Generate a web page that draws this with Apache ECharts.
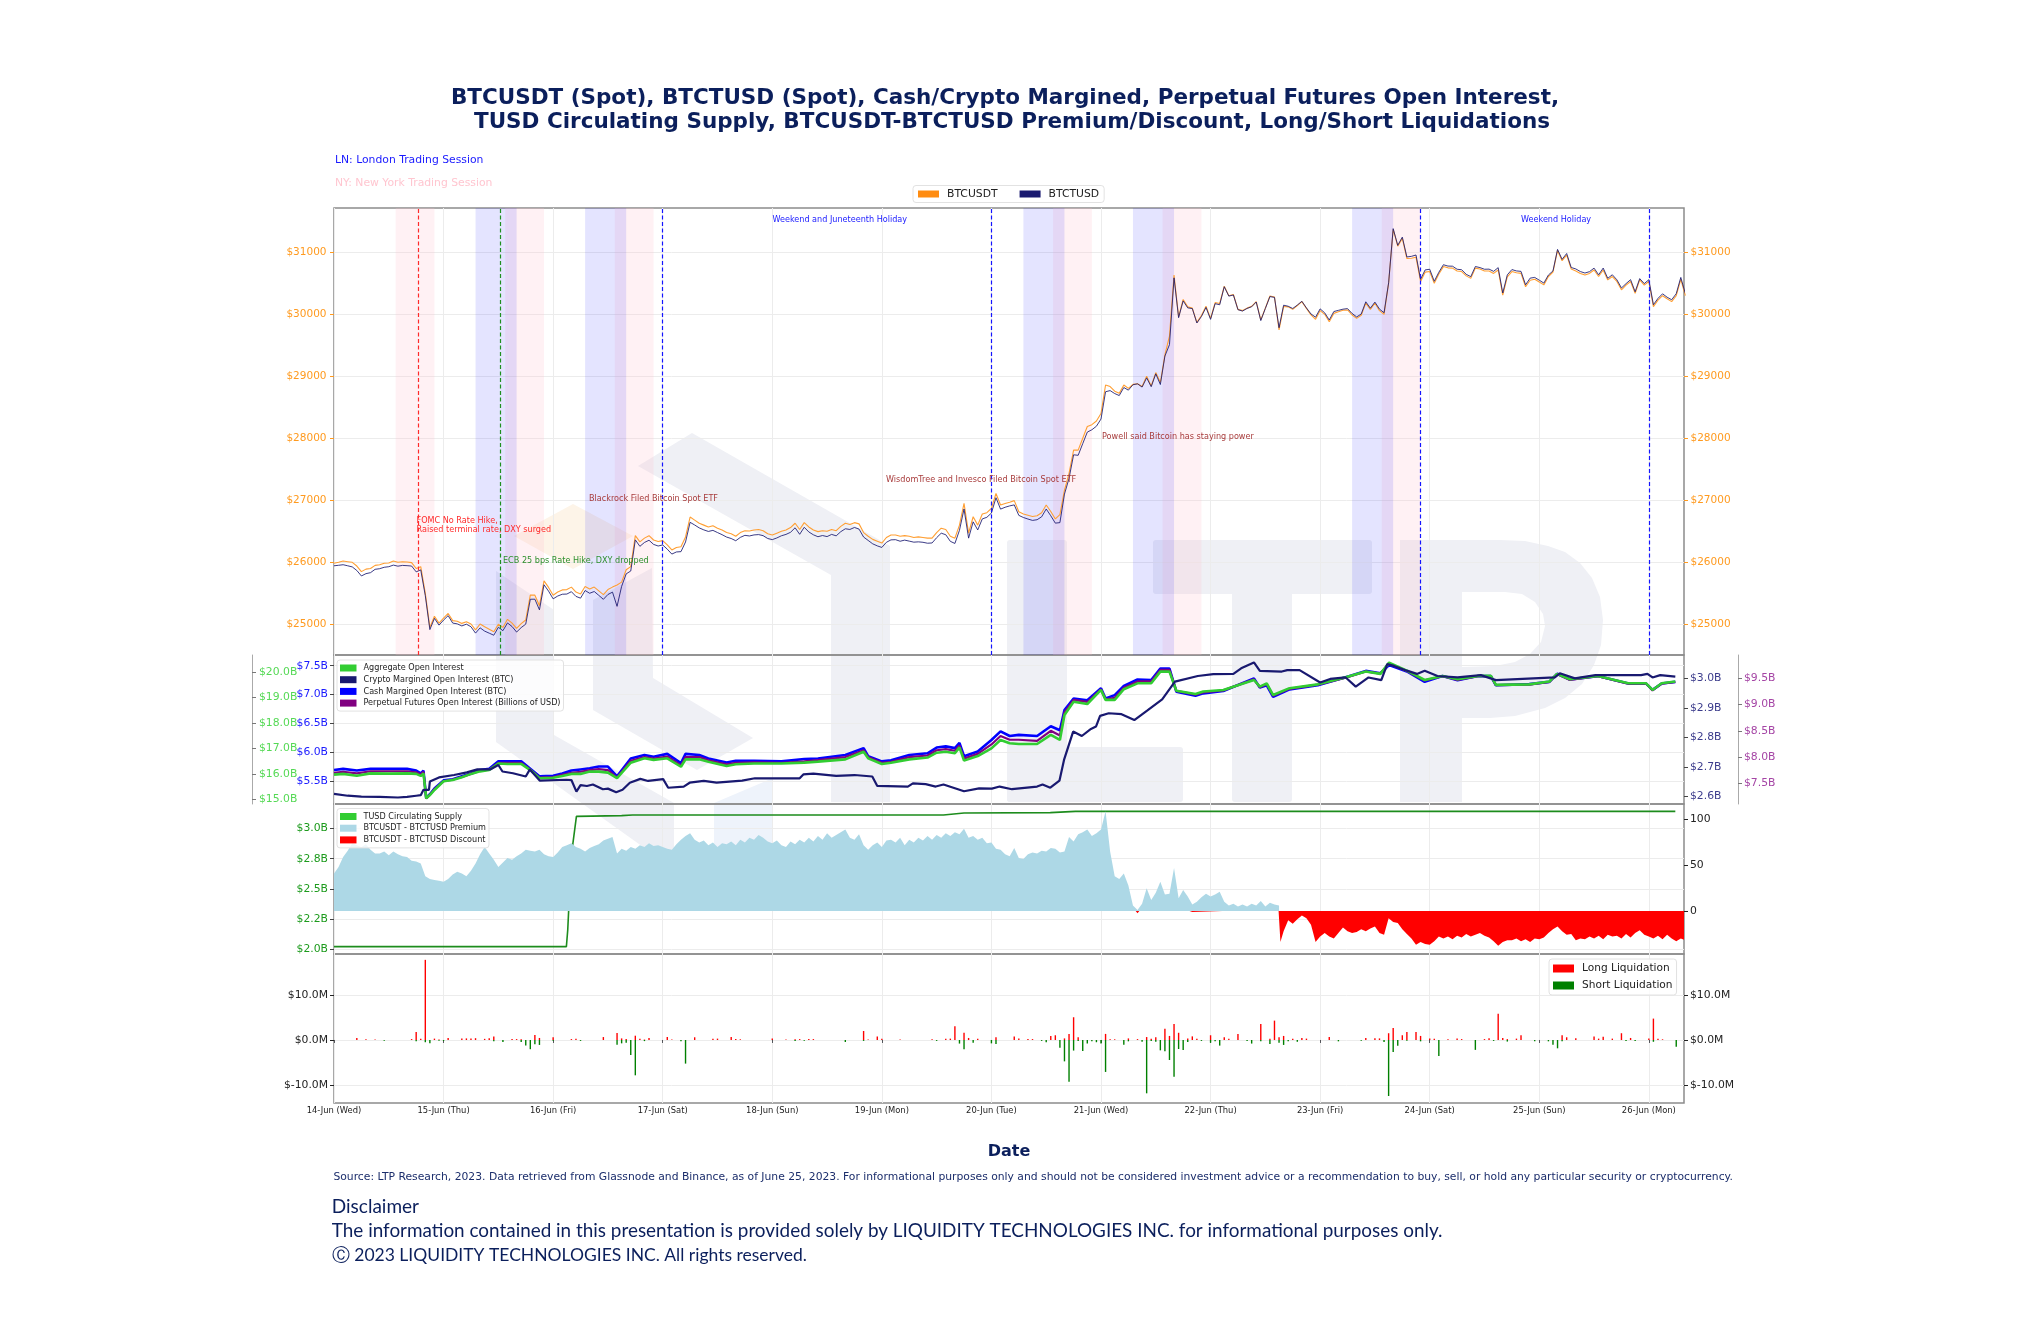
<!DOCTYPE html>
<html><head><meta charset="utf-8">
<style>html,body{margin:0;padding:0;background:#fff}#c{width:2040px;height:1334px}</style>
<script src="https://cdn.jsdelivr.net/npm/echarts@6/dist/echarts.min.js"></script>
</head><body><div id="c"></div>
<script>
// ---------- data (hour index = hours since 14-Jun 00:00) ----------
const dayHours=[0,24,48,72,96,120,144,168,192,216,240,264,288];
const dayLabels=['14-Jun (Wed)','15-Jun (Thu)','16-Jun (Fri)','17-Jun (Sat)','18-Jun (Sun)','19-Jun (Mon)','20-Jun (Tue)','21-Jun (Wed)','22-Jun (Thu)','23-Jun (Fri)','24-Jun (Sat)','25-Jun (Sun)','26-Jun (Mon)'];
const priceTicks=[25000,26000,27000,28000,29000,30000,31000];
const btcusdt=[25985,26000,26020,26010,26000,25940,25850,25890,25900,25950,25960,25985,25990,26020,26000,26010,26005,25995,25900,25930,25500,24950,25130,25020,25100,25175,25060,25050,25015,25040,25005,24910,25005,24960,24920,24880,25000,24950,25080,25020,24935,25010,25070,25470,25470,25300,25700,25595,25470,25520,25555,25560,25600,25520,25490,25610,25570,25600,25540,25480,25560,25600,25635,25680,25880,25930,26430,26330,26390,26430,26360,26335,26350,26280,26200,26240,26250,26410,26730,26680,26630,26600,26570,26590,26550,26520,26480,26460,26420,26480,26510,26505,26520,26530,26510,26460,26440,26470,26500,26520,26560,26630,26530,26640,26570,26520,26495,26510,26500,26530,26510,26580,26630,26610,26640,26620,26480,26420,26370,26340,26310,26400,26440,26440,26420,26430,26420,26400,26410,26400,26390,26390,26480,26550,26530,26420,26390,26600,26950,26470,26735,26600,26780,26800,26870,27110,26925,26950,26970,26995,26815,26780,26760,26740,26750,26800,26925,26820,26700,26770,27165,27435,27810,27810,28000,28190,28220,28280,28400,28860,28835,28760,28725,28860,28805,28870,28880,28835,29000,28845,29060,28900,29345,29650,30635,29960,30240,30120,30100,29870,29980,30130,29935,30190,30175,30455,30300,30320,30080,30060,30100,30130,30205,29910,30100,30295,30280,29750,30125,30120,30080,30140,30205,30095,29990,29920,30060,30000,29880,30015,30040,30065,30070,29990,29935,29985,30180,30080,30180,30060,30000,30500,31370,31100,31225,30900,30905,30920,30530,30680,30690,30500,30650,30770,30750,30745,30700,30690,30620,30580,30745,30730,30700,30700,30660,30715,30310,30605,30690,30670,30660,30445,30550,30565,30520,30475,30610,30680,31030,30865,30955,30730,30700,30660,30635,30660,30715,30610,30715,30555,30610,30530,30395,30470,30530,30340,30555,30470,30530,30125,30230,30300,30250,30205,30300,30565,30300];
const btctusd=[25944,25952,25961,25944,25926,25868,25780,25817,25833,25887,25897,25920,25929,25955,25938,25950,25946,25940,25846,25878,25462,24915,25096,24987,25068,25140,25020,25007,24974,25002,24961,24858,24943,24890,24857,24824,24952,24897,25022,24964,24875,24947,25003,25404,25405,25233,25638,25535,25411,25456,25485,25488,25526,25450,25422,25545,25501,25529,25467,25403,25481,25519,25290,25612,25814,25860,26362,26258,26320,26356,26289,26263,26280,26212,26133,26167,26172,26328,26645,26602,26555,26523,26498,26515,26480,26446,26407,26384,26348,26402,26435,26425,26442,26447,26430,26384,26366,26393,26428,26450,26484,26557,26452,26565,26490,26444,26413,26432,26415,26450,26427,26494,26541,26530,26562,26536,26408,26353,26298,26265,26240,26323,26362,26365,26340,26358,26342,26325,26330,26323,26308,26312,26397,26470,26445,26338,26304,26516,26860,26390,26653,26522,26700,26726,26795,27042,26858,26888,26910,26926,26757,26723,26698,26676,26687,26734,26860,26751,26632,26640,27100,27354,27734,27726,27914,28100,28138,28195,28311,28751,28770,28722,28690,28819,28777,28864,28879,28827,28975,28833,29040,28868,29327,29511,30588,29946,30217,30104,30093,29860,29965,30111,29919,30172,30154,30445,30294,30312,30075,30053,30095,30122,30199,29899,30095,30286,30273,29784,30147,30130,30094,30149,30210,30103,30005,29954,30088,30024,29908,30045,30064,30083,30092,30014,29958,30005,30202,30099,30197,30084,30026,30508,31382,31113,31245,30925,30935,30957,30564,30716,30727,30533,30678,30800,30778,30776,30727,30719,30645,30608,30771,30754,30727,30729,30693,30753,30344,30637,30722,30700,30693,30476,30584,30595,30551,30504,30634,30700,31047,30887,30981,30755,30732,30690,30666,30688,30745,30637,30746,30581,30638,30557,30425,30495,30559,30364,30576,30496,30558,30155,30257,30331,30276,30235,30333,30595,30332];

const oiHours=[0,2,5,8,12,16,18,19,19.6,20.2,21,22,24,26,28,30,32,34,36,38,41,43,45,48,50,52,54,56,58,60,62,65,68,70,73,76,77,80,82,86,88,92,98,103,106,112,116,117,120,122,126,130,132,134,136,137,138,141,144,146,148,150,154,157,159,160,162,165,168,169,171,173,176,179,181,183,184.5,188.7,190.4,194.8,201.5,202.8,204.3,205.7,209.3,215.5,221.6,226,229.2,231.1,235,238.9,242.8,246.1,250.6,253.4,254.5,261.8,266.2,267.9,270.7,276.8,283.5,287.4,288.8,290.8,293.8];
const aggregateOI=[15.98,16.01,15.94,16.03,16.02,16.03,16.01,15.93,16.03,15.05,15.18,15.38,15.72,15.77,15.88,16.01,16.11,16.16,16.42,16.40,16.40,16.16,15.84,15.86,15.93,16.01,16.01,16.10,16.10,16.06,15.84,16.45,16.62,16.56,16.62,16.29,16.58,16.58,16.49,16.32,16.39,16.42,16.42,16.45,16.49,16.58,16.88,16.62,16.40,16.45,16.58,16.65,16.84,16.88,16.82,17.05,16.53,16.71,17.01,17.34,17.21,17.18,17.18,17.54,17.34,18.32,18.84,18.75,19.30,18.91,18.91,19.33,19.56,19.56,20.02,20.02,19.27,19.14,19.24,19.30,19.69,19.43,19.56,19.10,19.37,19.52,19.80,20.02,19.93,20.37,20.06,19.69,19.85,19.72,19.85,19.85,19.50,19.52,19.63,19.93,19.72,19.85,19.56,19.56,19.30,19.56,19.63];
const cashOI=[5.69,5.71,5.68,5.71,5.71,5.71,5.68,5.63,5.68,5.20,5.27,5.37,5.51,5.53,5.58,5.63,5.69,5.71,5.84,5.84,5.84,5.71,5.58,5.59,5.63,5.68,5.70,5.72,5.75,5.75,5.58,5.89,5.95,5.92,5.97,5.81,5.97,5.95,5.89,5.82,5.85,5.85,5.84,5.88,5.89,5.95,6.07,5.93,5.84,5.86,5.95,5.98,6.08,6.10,6.07,6.16,5.93,6.01,6.21,6.36,6.28,6.30,6.28,6.45,6.38,6.73,6.93,6.90,7.11,6.93,6.99,7.15,7.26,7.25,7.45,7.45,7.05,6.98,7.02,7.06,7.28,7.12,7.16,6.96,7.09,7.16,7.30,7.41,7.37,7.51,7.40,7.22,7.32,7.25,7.32,7.32,7.16,7.18,7.22,7.36,7.26,7.32,7.19,7.19,7.08,7.19,7.22];
const perpOI=[7.70,7.72,7.69,7.73,7.73,7.73,7.71,7.67,7.72,7.21,7.28,7.39,7.54,7.57,7.62,7.68,7.74,7.76,7.89,7.89,7.89,7.76,7.61,7.62,7.66,7.70,7.72,7.75,7.77,7.75,7.61,7.93,8.00,7.97,8.01,7.84,8.00,8.00,7.94,7.86,7.89,7.90,7.89,7.92,7.94,8.00,8.13,8.00,7.89,7.91,8.00,8.03,8.13,8.15,8.12,8.22,7.97,8.06,8.24,8.40,8.33,8.33,8.31,8.50,8.41,8.85,9.09,9.05,9.29,9.10,9.13,9.32,9.44,9.44,9.66,9.66,9.26,9.19,9.23,9.27,9.48,9.33,9.39,9.17,9.30,9.38,9.51,9.63,9.59,9.78,9.64,9.46,9.54,9.47,9.54,9.54,9.37,9.38,9.43,9.58,9.47,9.54,9.40,9.40,9.27,9.40,9.43];
const cryptoHours=[0,3,6,10,14,16,18,19,19.6,20.8,21,23,26.3,29.1,31.4,34.2,36,36.9,39.2,42,42.9,45.1,50.9,52,53.1,54,55.4,56.7,58.9,60,61.8,63.2,64.8,67.1,68.8,72.1,73.2,76.6,77.9,81,83.8,89.4,92.2,96.7,102,102.8,105,110,114,117.9,119,125.7,126.8,129.6,131.8,133.5,138,141.3,144.1,145.8,148.5,154,155.2,156.9,158.9,159.9,161.9,163.8,165.8,166.9,167.8,169.7,172.5,175.3,178.1,181.4,184.2,189.2,192.6,197,198.7,201.5,202.8,207.6,208.8,211.5,216,218.2,221.6,223.8,226.6,229.4,230.7,232.2,235,237.2,238.9,241.7,246.1,251.2,254.5,267.4,268.5,271.8,276.3,286.3,287.7,288.8,290.5,293.8];
const cryptoOI=[2.609,2.603,2.600,2.599,2.597,2.599,2.603,2.605,2.623,2.623,2.651,2.665,2.673,2.682,2.692,2.692,2.707,2.685,2.679,2.668,2.692,2.654,2.657,2.656,2.617,2.639,2.636,2.641,2.625,2.627,2.615,2.623,2.647,2.660,2.653,2.659,2.630,2.634,2.647,2.653,2.647,2.654,2.662,2.662,2.662,2.675,2.678,2.670,2.673,2.668,2.636,2.634,2.645,2.642,2.634,2.641,2.618,2.628,2.627,2.634,2.625,2.634,2.641,2.630,2.654,2.724,2.820,2.805,2.829,2.837,2.873,2.882,2.879,2.859,2.891,2.929,2.989,3.008,3.014,3.015,3.034,3.054,3.025,3.023,3.028,3.028,2.986,2.998,3.003,2.972,3.003,2.994,3.048,3.042,3.026,3.015,3.026,3.008,3.003,3.011,2.994,3.003,3.017,3.000,3.011,3.011,3.015,3.003,3.011,3.006];
const aggTicks=[15,16,17,18,19,20], cashTicks=[5.5,6,6.5,7,7.5], cryptoTicks=[2.6,2.7,2.8,2.9,3.0], perpTicks=[7.5,8,8.5,9,9.5];

const tusdHours=[0,50.9,51.2,51.4,52.3,53.1,63,65.4,133.5,138,156.9,162.4,293.8];
const tusdSupply=[2.019,2.019,2.16,2.32,2.87,3.102,3.108,3.114,3.114,3.130,3.133,3.144,3.144];
const tusdTicks=[2,2.25,2.5,2.75,3], tusdTickLabels=['$2.0B','$2.2B','$2.5B','$2.8B','$3.0B'];
const premiumTicks=[0,50,100];
const premium=[41,48,59,66,74,72,70,73,67,63,63,65,61,65,62,60,59,55,54,52,38,35,34,33,32,35,40,43,41,38,44,52,62,70,63,56,48,53,58,56,60,63,67,66,65,67,62,60,59,64,70,72,74,70,68,65,69,71,73,77,79,81,63,68,66,70,68,72,70,74,71,72,70,68,67,73,78,82,85,78,75,77,72,75,70,74,73,76,72,78,75,80,78,83,80,76,74,77,72,70,76,73,78,75,80,76,82,78,85,80,83,86,89,80,78,84,72,67,72,75,70,77,78,75,80,72,78,75,80,77,82,78,83,80,85,82,86,84,90,80,82,78,80,74,75,68,67,62,60,69,58,57,62,64,63,66,65,69,68,64,65,81,76,84,86,89,82,85,89,109,65,38,35,41,28,6,1,8,25,12,20,32,18,19,47,14,23,16,7,10,15,19,16,18,21,10,6,8,5,7,5,8,6,11,5,9,7,6];
const discountHours=[175.6,176,176.4,184.6,185,185.4,186.6,187,187.4,187.6,188,188.4,194.6,195,195.4,196.6,197,197.4,198.6,199,199.4,200.6,201,201.4,202.6,203,203.4,206.9,207.3,208,209,210,211,212,213,214,215,216,217,218,219,220,221,222,223,224,225,226,227,228,229,230,231,232,233,234,235,236,237,238,239,240,241,242,243,244,245,246,247,248,249,250,251,252,253,254,255,256,257,258,259,260,261,262,263,264,265,266,267,268,269,270,271,272,273,274,275,276,277,278,279,280,281,282,283,284,285,286,287,288,289,290,291,292,293,294,295,296];
const discount=[0,-2.5,0,0,-1.5,0,0,-1,0,0,-1,0,0,-1,0,0,-1,0,0,-1,0,0,-1.5,0,0,-1,0,0,-34,-22,-10,-14,-9,-5,-8,-15,-34,-28,-24,-28,-30,-24,-18,-22,-24,-23,-20,-22,-19,-17,-24,-26,-8,-12,-13,-20,-25,-30,-37,-34,-36,-37,-33,-28,-30,-28,-31,-27,-29,-25,-28,-26,-24,-27,-29,-33,-38,-34,-32,-32,-30,-33,-31,-34,-30,-31,-29,-24,-20,-17,-22,-26,-25,-32,-30,-31,-28,-30,-27,-31,-26,-28,-27,-30,-25,-29,-24,-21,-26,-28,-30,-27,-31,-26,-30,-33,-30,-32];

const liqTicks=[-10,0,10], liqLabels=['$-10.0M','$0.0M','$10.0M'];
const longHours=[5,7,9,17,18,19,20,22,23,25,28,29,30,31,33,34,35,39,40,41,44,45,48,52,53,59,62,63,64,66,67,68,69,73,74,79,83,84,87,88,89,96,99,101,102,104,105,116,117,119,120,124,131,134,135,136,138,139,141,145,149,150,152,153,157,158,160,161,162,163,169,170,171,174,176,178,179,180,182,183,184,185,187,188,189,192,195,196,198,203,205,206,207,208,210,212,213,218,226,228,229,231,232,234,235,237,238,240,241,244,246,247,252,253,255,256,257,259,260,269,270,272,276,277,278,280,282,284,288,289,290,291];
const longLiq=[.44,.15,.1,.2,1.8,.3,17.8,.3,.1,.45,.35,.35,.35,.4,.25,.4,.8,.2,.2,.15,1.1,.45,.6,.2,.25,.65,1.55,.35,.2,.95,.25,.1,.45,.65,.1,.6,.3,.3,.65,.2,.15,.35,.1,.15,.2,.2,.2,2,.1,.75,.25,.1,.15,.3,.3,3.05,1.6,.45,.3,.6,.8,.35,.2,.2,.9,1.05,.35,1.35,5.05,.6,1.35,.15,.15,.35,.2,.65,.3,.6,2.5,.9,3.55,1.6,.35,.8,.3,1.05,.6,.3,1.35,3.55,.3,4.3,.6,.9,.3,.45,.3,.65,.45,.4,.35,1.5,2.65,1.05,1.8,1.8,.9,.35,.3,.15,.35,.2,.2,.4,5.8,.45,.2,.3,1.05,1.05,.6,.4,.75,.3,.7,.3,1.5,.45,.35,4.75,.3,.15];
const shortHours=[11,18,20,21,23,24,35,37,41,42,43,44,45,48,54,62,63,64,65,66,68,76,77,101,103,112,116,132,137,138,140,144,145,155,156,159,160,161,162,163,164,165,166,167,168,169,173,174,177,178,179,180,181,182,183,184,185,186,187,190,192,193,194,200,201,203,205,207,208,209,211,220,225,230,231,232,233,235,238,242,250,254,257,263,266,267,268,269,283,285,289,294];
const shortLiq=[-.15,-.3,-.5,-.75,-.15,-.2,-.3,-.45,-.45,-1.2,-2.05,-.95,-1.1,-.15,-.2,-1.05,-.75,-.6,-3.35,-7.85,-.25,-.3,-5.25,-.2,-.15,-.45,-.2,-.2,-.8,-2.05,-.6,-.75,-.9,-.2,-.5,-1.75,-4.75,-9.3,-2.35,-.2,-2.45,-.8,-.3,-.5,-.8,-7.1,-1.05,-.3,-.4,-11.85,-.2,-.4,-2.3,-2.5,-4.45,-8.15,-2,-2.2,-.45,-.2,-.6,-.3,-1.25,-.2,-.8,-.3,-.9,-.6,-1.1,-.3,-.4,-.3,-.15,-.45,-12.45,-2.65,-1.3,-.15,-.3,-3.55,-2.2,-.2,-.35,-.3,-.3,-1.05,-1.85,-.3,-.25,-.2,-.4,-1.5];

const lnSessions=[[31,40],[55,64],[151,160],[175,184],[223,232]];
const nySessions=[[13.5,22],[37.5,46],[61.5,70],[157.5,166],[181.5,190],[229.5,238]];
const holidayLines=[72,144,238,288];
const fomcLine=18.55, ecbLine=36.5;

// ---------- helpers ----------
const FONT='"DejaVu Sans"';
const zip=(xs,ys)=>ys.map((v,i)=>[xs[i],v]);
const idx=ys=>ys.map((v,i)=>[i,v]);
const NAVY='#0b1f5c', GRID='#ececec', SPINE='#8c8c8c';
const XMAX=295.7;
const grids=[{top:208,height:447},{top:655,height:149},{top:804,height:150},{top:954,height:149}]
  .map(g=>({left:334,width:1350,top:g.top,height:g.height,show:true,borderColor:SPINE,borderWidth:1.5,backgroundColor:'transparent',containLabel:false}));
const xAxes=[0,1,2,3].map(i=>({type:'value',gridIndex:i,min:0,max:XMAX,position:'bottom',
  axisLine:{show:false},
  axisTick:{show:i===3,length:3,lineWidth:1,color:'#555',customValues:dayHours},
  splitLine:{show:true,lineStyle:{color:GRID,width:1}},
  axisLabel:{show:i===3,customValues:dayHours,fontSize:8.4,fontFamily:FONT,color:'#222',margin:4,hideOverlap:false,showMinLabel:true,showMaxLabel:true,
    formatter:v=>dayLabels[dayHours.indexOf(v)]||''}}));
function yAx(gi,pos,min,max,ticks,color,fmt,o={}){
  return Object.assign({type:'value',gridIndex:gi,position:pos,min,max,scale:true,
    axisLine:{show:!!o.line,lineStyle:{color:'#aaa',width:1}},
    axisTick:{show:true,inside:!!o.inside,length:4,lineStyle:{color:o.tickColor||color},customValues:ticks},
    splitLine:{show:!!o.split,lineStyle:{color:GRID,width:1}},
    axisLabel:{customValues:ticks,color,fontSize:o.fs||10.8,fontFamily:FONT,margin:o.margin||6,inside:!!o.inside,formatter:fmt,showMinLabel:true,showMaxLabel:true}},
    o.offset?{offset:o.offset}:{});
}
const dollars=v=>'$'+v;
const bn=(v)=>'$'+v.toFixed(1)+'B';
const yAxes=[
  yAx(0,'left',24505,31715,priceTicks,'#ff9a1f',dollars,{split:true,margin:7.5,fs:10.5}),
  yAx(0,'right',24505,31715,priceTicks,'#ff9a1f',dollars,{margin:6.5,fs:10.5}),
  yAx(1,'left',5.10,7.686,cashTicks,'#1a1aff',bn,{split:true,tickColor:'#444'}),
  yAx(1,'left',14.83,20.67,aggTicks,'#55d955',bn,{offset:82,inside:true,line:true,margin:7,tickColor:'#777'}),
  yAx(1,'right',2.575,3.079,cryptoTicks,'#3c3c8c',bn,{tickColor:'#444'}),
  yAx(1,'right',7.106,9.944,perpTicks,'#a545a5',bn,{offset:54,line:true,margin:6,tickColor:'#777'}),
  yAx(2,'left',1.958,3.205,tusdTicks,'#1c9a1c',v=>tusdTickLabels[tusdTicks.indexOf(v)],{split:true,tickColor:'#444'}),
  yAx(2,'right',-47,117,premiumTicks,'#222',v=>''+v,{}),
  yAx(3,'left',-14,19.1,liqTicks,'#222',v=>liqLabels[liqTicks.indexOf(v)],{split:true}),
  yAx(3,'right',-14,19.1,liqTicks,'#222',v=>liqLabels[liqTicks.indexOf(v)],{}),
];
const band=(s,c)=>s.map(r=>[{xAxis:r[0],itemStyle:{color:c}},{xAxis:r[1]}]);
const vline=(x,c)=>({xAxis:x,lineStyle:{color:c,type:[4,2.5],width:1.2}});
function line(name,xi,yi,data,color,w,extra={}){
  return Object.assign({name,type:'line',xAxisIndex:xi,yAxisIndex:yi,data,showSymbol:false,symbol:'none',
    lineStyle:{color,width:w},itemStyle:{color},silent:true,animation:false,clip:true,sampling:false,smooth:false},extra);
}
const series=[
  {type:'line',name:'_sessions',xAxisIndex:0,yAxisIndex:0,data:[],silent:true,animation:false,
   markArea:{silent:true,animation:false,data:[...band(nySessions,'rgba(255,192,203,0.22)'),...band(lnSessions,'rgba(0,0,255,0.105)')]},
   markLine:{silent:true,animation:false,symbol:'none',label:{show:false},
     data:[vline(fomcLine,'#ff2a2a'),vline(ecbLine,'#1f8f1f'),...holidayLines.map(h=>vline(h,'#1414ff'))]}},
  line('BTCUSDT',0,0,idx(btcusdt),'#ff9f33',1.1),
  line('BTCTUSD',0,0,idx(btctusd),'#191970',1,{lineStyle:{color:'#191970',width:1,opacity:0.85}}),
  line('Aggregate Open Interest',1,3,zip(oiHours,aggregateOI),'#32CD32',2.6,{z:4}),
  line('Crypto Margined Open Interest (BTC)',1,4,zip(cryptoHours,cryptoOI),'#191970',2.2,{z:5}),
  line('Cash Margined Open Interest (BTC)',1,2,zip(oiHours,cashOI),'#0000ff',2.6,{z:2}),
  line('Perpetual Futures Open Interest (Billions of USD)',1,5,zip(oiHours,perpOI),'#800080',2.2,{z:3}),
  line('TUSD Circulating Supply',2,6,zip(tusdHours,tusdSupply),'#1d8c1d',1.6,{z:1}),
  line('BTCUSDT - BTCTUSD Premium',2,7,idx(premium),'#ADD8E6',0,{z:2,areaStyle:{color:'#ADD8E6',opacity:1,origin:0}}),
  line('BTCUSDT - BTCTUSD Discount',2,7,zip(discountHours,discount),'#ff0000',0,{z:2,areaStyle:{color:'#ff0000',opacity:1,origin:0}}),
  {name:'Long Liquidation',type:'bar',xAxisIndex:3,yAxisIndex:8,data:zip(longHours,longLiq),barWidth:1.4,barGap:'-100%',itemStyle:{color:'#ff0000'},silent:true,animation:false},
  {name:'Short Liquidation',type:'bar',xAxisIndex:3,yAxisIndex:8,data:zip(shortHours,shortLiq),barWidth:1.4,barGap:'-100%',itemStyle:{color:'#008000'},silent:true,animation:false},
];
const legendBase={selectedMode:false,icon:'rect',backgroundColor:'rgba(255,255,255,0.8)',borderColor:'#e2e2e2',borderWidth:1,borderRadius:3};
const leg=(o,names,colors)=>Object.assign({},legendBase,o,{data:names.map((n,i)=>({name:n,itemStyle:{color:colors[i],borderWidth:0}}))});
const legends=[
  leg({left:913,top:185.5,orient:'horizontal',itemWidth:21,itemHeight:7,itemGap:22,padding:[3,5,3,5],textStyle:{fontFamily:FONT,fontSize:10.8,color:'#222',padding:[0,0,0,3]}},['BTCUSDT','BTCTUSD'],['#ff8c11','#191970']),
  leg({left:337,top:660,orient:'vertical',itemWidth:16.5,itemHeight:7,itemGap:1.7,padding:[3,3,3,3],textStyle:{fontFamily:FONT,fontSize:8.1,color:'#222',lineHeight:10,padding:[0,0,0,2]}},
    ['Aggregate Open Interest','Crypto Margined Open Interest (BTC)','Cash Margined Open Interest (BTC)','Perpetual Futures Open Interest (Billions of USD)'],['#32CD32','#191970','#0000ff','#800080']),
  leg({left:337,top:808.5,orient:'vertical',itemWidth:16.5,itemHeight:7,itemGap:1.7,padding:[3,3,3,3],textStyle:{fontFamily:FONT,fontSize:8.1,color:'#222',lineHeight:10,padding:[0,0,0,2]}},
    ['TUSD Circulating Supply','BTCUSDT - BTCTUSD Premium','BTCUSDT - BTCTUSD Discount'],['#32CD32','#ADD8E6','#ff0000']),
  leg({left:1549,top:959,orient:'vertical',itemWidth:21,itemHeight:8,itemGap:4,padding:[3,4,3,4],textStyle:{fontFamily:FONT,fontSize:10.6,color:'#222',lineHeight:13,padding:[0,0,0,3]}},
    ['Long Liquidation','Short Liquidation'],['#ff0000','#008000']),
];
const WM='#eff0f5';
const poly=(pts,fill)=>({type:'polygon',silent:true,z:-5,shape:{points:pts},style:{fill}});
const rect=(x,y,w,h,fill)=>({type:'rect',silent:true,z:-5,shape:{x,y,width:w,height:h,r:3},style:{fill}});
const watermark=[
  poly([[692,433],[890,546],[890,802],[831,802],[831,575],[638,466]],WM),
  poly([[496,571],[554,610],[554,735],[674,803],[674,869],[496,742]],WM),
  poly([[593,600],[652,568],[653,678],[753,738],[697,770],[593,710]],WM),
  poly([[573,504],[633,536],[573,569],[514,536]],'#fdf4e8'),
  poly([[714,803],[773,778],[773,847],[714,873]],'#eef3fb'),
  rect(1007,540,60,262,WM), rect(1007,747,176,55,WM),
  rect(1153,540,219,54,WM), rect(1232,590,60,212,WM),
  poly([[1400,540],[1500,540],[1525,541],[1548,546],[1565,552],[1580,563],[1592,578],[1600,597],[1603,620],[1601,645],[1594,665],[1582,684],[1565,698],[1545,708],[1515,716],[1490,718],[1462,718],[1462,802],[1400,802]],WM),
  {type:'polygon',silent:true,z:-4,shape:{points:[[1462,592],[1505,592],[1522,594],[1535,602],[1543,614],[1545,626],[1541,642],[1530,654],[1515,662],[1495,666],[1462,667]]},style:{fill:'#fff'}},
];
const text=(t,x,y,font,fill,align='left',extra={})=>({type:'text',silent:true,z:50,x,y:y+1.2,style:Object.assign({text:t,font,fill,textAlign:align,textVerticalAlign:'middle'},extra)});
const ann=s=>`${s}px ${FONT}`;
const BROWN='#a83c3c';
const texts=[
  text('BTCUSDT (Spot), BTCTUSD (Spot), Cash/Crypto Margined, Perpetual Futures Open Interest,',1005,97,`bold 21.5px ${FONT}`,NAVY,'center'),
  text('TUSD Circulating Supply, BTCUSDT-BTCTUSD Premium/Discount, Long/Short Liquidations',1012,121,`bold 21.5px ${FONT}`,NAVY,'center'),
  text('LN: London Trading Session',335,159,ann(10.8),'#1a1aff'),
  text('NY: New York Trading Session',335,182,ann(10.8),'#ffc6d0'),
  text('FOMC No Rate Hike,',416.5,519.6,ann(8.1),'#ff2a2a'),
  text('Raised terminal rate, DXY surged',416.5,528.8,ann(8.1),'#ff2a2a'),
  text('ECB 25 bps Rate Hike, DXY dropped',503,559.8,ann(8.1),'#2c8f2c'),
  text('Blackrock Filed Bitcoin Spot ETF',589,497.4,ann(8.1),BROWN),
  text('WisdomTree and Invesco Filed Bitcoin Spot ETF',886,479,ann(8.1),BROWN),
  text('Powell said Bitcoin has staying power',1102,435.7,ann(8.1),BROWN),
  text('Weekend and Juneteenth Holiday',772.4,218.4,ann(8.1),'#2020ff'),
  text('Weekend Holiday',1521,219,ann(8.1),'#2020ff'),
  text('Date',1009,1151,`bold 16px ${FONT}`,NAVY,'center'),
  text('Source: LTP Research, 2023. Data retrieved from Glassnode and Binance, as of June 25, 2023. For informational purposes only and should not be considered investment advice or a recommendation to buy, sell, or hold any particular security or cryptocurrency.',333.4,1176,ann(10.78),'#1b2d6b'),
  text('Disclaimer',331.8,1206,'19px Lato',NAVY),
  text('The information contained in this presentation is provided solely by LIQUIDITY TECHNOLOGIES INC. for informational purposes only.',331.8,1230,'18.9px Lato',NAVY),
  text('Ⓒ 2023 LIQUIDITY TECHNOLOGIES INC. All rights reserved.',331.8,1254,'17.5px Lato',NAVY),
];
const chart=echarts.init(document.getElementById('c'),null,{renderer:'canvas',width:2040,height:1334});
chart.setOption({animation:false,backgroundColor:'#fff',tooltip:{show:false},grid:grids,xAxis:xAxes,yAxis:yAxes,legend:legends,series,graphic:{elements:[...watermark,...texts]}});
</script></body></html>
